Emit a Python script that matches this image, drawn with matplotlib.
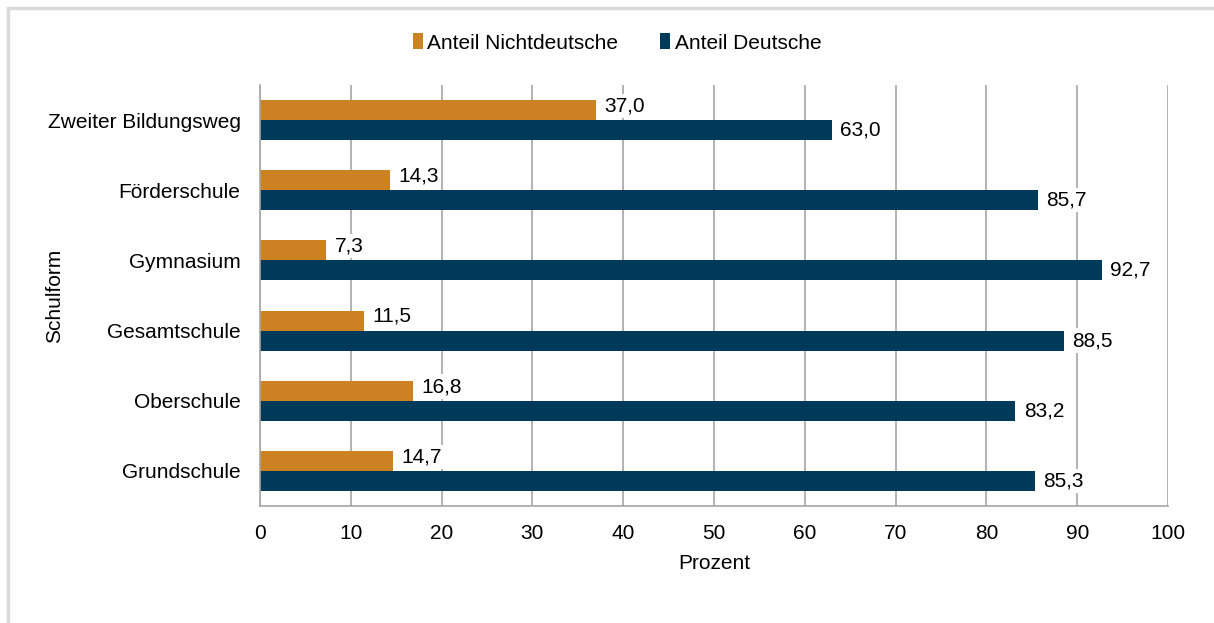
import matplotlib
matplotlib.use("Agg")
import matplotlib.pyplot as plt
from matplotlib.patches import Rectangle
import numpy as np

categories = ["Zweiter Bildungsweg", "Förderschule", "Gymnasium", "Gesamtschule", "Oberschule", "Grundschule"]
nichtdeutsche = [37.0, 14.3, 7.3, 11.5, 16.8, 14.7]
deutsche = [63.0, 85.7, 92.7, 88.5, 83.2, 85.3]
xticks = [0, 10, 20, 30, 40, 50, 60, 70, 80, 90, 100]

plt.rcParams['font.family'] = ['Liberation Sans', 'DejaVu Sans']
FS = 15

fig = plt.figure(figsize=(12.14, 6.23), dpi=100)
ax = fig.add_axes([260/1214, 1 - 506/623, (1168-260)/1214, (506-85)/623])

fig.patches.append(Rectangle((8/1214, -0.01), 1.05, 1 - 8/623 + 0.01, transform=fig.transFigure,
                             fill=False, edgecolor='#d9d9d9', linewidth=2.5, zorder=0))

n = len(categories)
y = np.arange(n)[::-1].astype(float)
h = 0.285
c1 = '#cc8122'
c2 = '#003a5a'
b1 = ax.barh(y + h/2, nichtdeutsche, height=h, color=c1, label='Anteil Nichtdeutsche', zorder=2)
b2 = ax.barh(y - h/2, deutsche, height=h, color=c2, label='Anteil Deutsche', zorder=2)

def fmt(v):
    return f"{v:.1f}".replace('.', ',')

for bars, vals, dy in ((b1, nichtdeutsche, 3), (b2, deutsche, 0)):
    for rect, v in zip(bars, vals):
        yy = rect.get_y() + rect.get_height()/2
        ax.annotate(fmt(v), (v, yy), xytext=(6, dy), textcoords='offset points',
                    va='center', ha='left', fontsize=FS, color='#000000', zorder=3,
                    bbox=dict(facecolor='white', edgecolor='none', pad=2))

ax.set_xlim(0, 100)
ax.set_ylim(-0.5, n - 0.5)
ax.set_xticks(xticks)
ax.set_xticklabels([str(t) for t in xticks], fontsize=FS)
ax.set_yticks(y)
ax.set_yticklabels(categories, fontsize=FS)
ax.tick_params(axis='y', length=0, pad=14)
ax.tick_params(axis='x', length=0, pad=13)
ax.grid(axis='x', color='#a6a6a6', linewidth=1.2, zorder=0)
ax.set_axisbelow(True)
for s in ['top', 'right']:
    ax.spines[s].set_visible(False)
for s in ['left', 'bottom']:
    ax.spines[s].set_color('#a6a6a6')
    ax.spines[s].set_linewidth(1.2)

ax.set_xlabel('Prozent', fontsize=FS, labelpad=8)
ax.set_ylabel('Schulform', fontsize=FS)
ax.yaxis.set_label_coords((64 - 260) / 908, 0.5)

fig.legend(handles=[b1, b2], loc='center', bbox_to_anchor=(617/1214, 1 - 43/623), ncol=2,
           frameon=False, fontsize=FS, handlelength=0.5, handleheight=0.8, handletextpad=0.2,
           columnspacing=2.0)

fig.savefig('out.png', dpi=100, facecolor='white')
